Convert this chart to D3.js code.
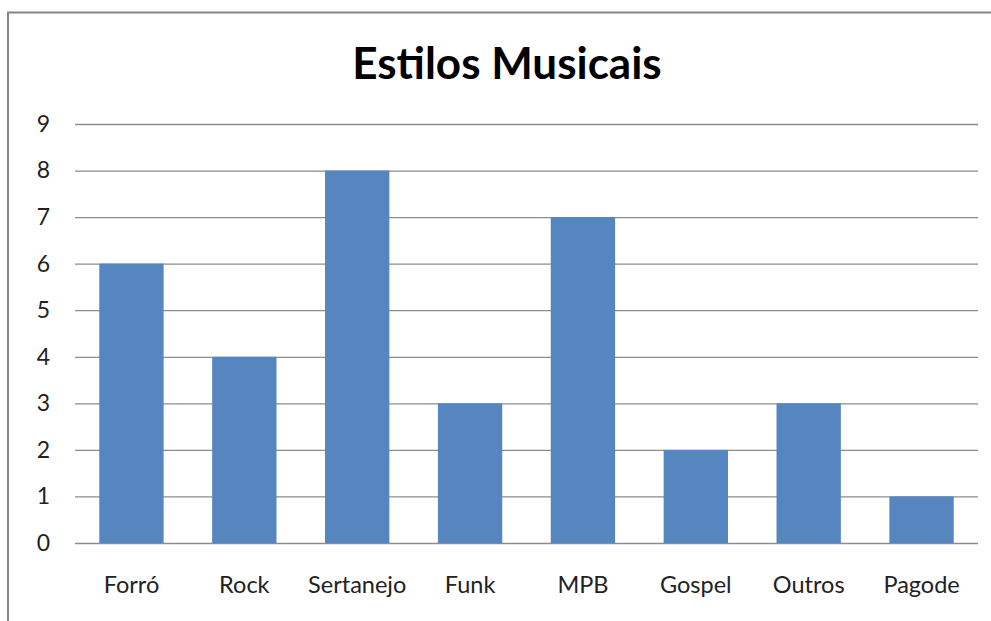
<!DOCTYPE html>
<html><head><meta charset="utf-8">
<script src="https://cdn.jsdelivr.net/npm/d3@7"></script>
<style>body{margin:0;background:#fff}svg{display:block}</style>
</head><body>
<script>
const categories = ["Forró","Rock","Sertanejo","Funk","MPB","Gospel","Outros","Pagode"];
const values = [6,4,8,3,7,2,3,1];
const yTicks = [0,1,2,3,4,5,6,7,8,9];
const title = "Estilos Musicais";

const W = 991, H = 621;
const svg = d3.select("body").append("svg").attr("width", W).attr("height", H);
svg.append("rect").attr("width", W).attr("height", H).attr("fill", "#fff");
// chart frame
svg.append("path").attr("d", `M8,${H+2} L8,12.5 L${W+2},12.5`)
  .attr("fill","none").attr("stroke","#858585").attr("stroke-width",2);

const m = {left:75, right:978, top:124, bottom:543};
const x = d3.scaleBand().domain(categories).range([m.left, m.right]).paddingInner(0.43).paddingOuter(0.215);
const y = d3.scaleLinear().domain([0,9]).range([m.bottom, m.top]);

const font = "Lato, 'Open Sans', sans-serif";
svg.append("text").attr("x", 507).attr("y", 79).attr("text-anchor","middle")
  .attr("font-family", font).attr("font-weight","bold").attr("font-size", 44).attr("fill","#000").text(title);

const yAxis = svg.append("g").attr("transform", `translate(${m.left},0)`)
  .call(d3.axisLeft(y).tickValues(yTicks).tickSize(-(m.right-m.left)).tickPadding(25));
yAxis.select(".domain").remove();
yAxis.selectAll(".tick line").attr("stroke","#8c8c8c").attr("stroke-width",1.3);
yAxis.selectAll(".tick text").attr("font-family", font).attr("font-size", 23).attr("fill","#222");

svg.append("g").selectAll("rect").data(values).join("rect")
  .attr("x", (d,i)=>x(categories[i])).attr("width", x.bandwidth())
  .attr("y", d=>y(d)).attr("height", d=>y(0)-y(d)).attr("fill","#5586C0");

const xAxis = svg.append("g").attr("transform", `translate(0,${m.bottom})`)
  .call(d3.axisBottom(x).tickSize(0).tickPadding(33));
xAxis.select(".domain").remove();
xAxis.selectAll(".tick text").attr("font-family", font).attr("font-size", 23.5).attr("fill","#222");
</script>
</body></html>
